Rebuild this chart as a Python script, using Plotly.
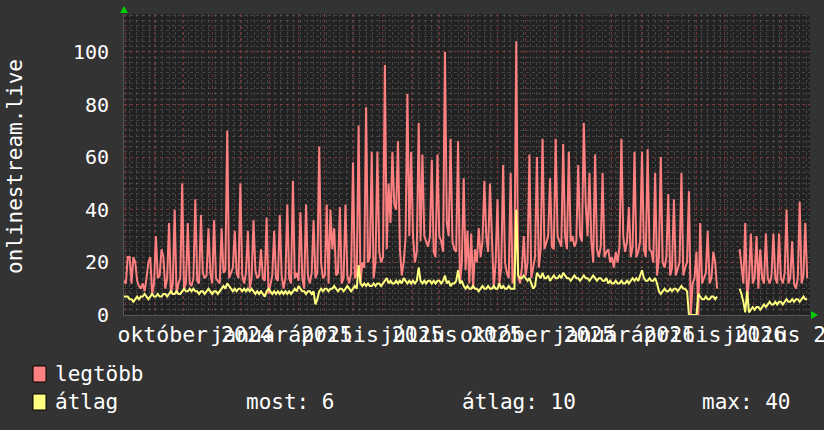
import plotly.graph_objects as go
import pandas as pd

# ---------------- data ----------------
start_date = "2024-07-30"
step_days = 2

legtobb = [
    13, 12, 22, 22, 12, 22, 20, 13, 11, 10,
    12, 9, 14, 20, 22, 8, 12, 30, 14, 15,
    25, 22, 10, 14, 35, 8, 12, 40, 8, 12,
    14, 50, 10, 12, 35, 12, 11, 14, 44, 13,
    12, 38, 16, 14, 15, 33, 16, 12, 36, 14,
    13, 12, 33, 16, 17, 70, 14, 16, 18, 32,
    16, 14, 50, 15, 12, 16, 32, 10, 14, 36,
    17, 14, 15, 25, 14, 13, 37, 8, 12, 15,
    32, 14, 13, 38, 15, 10, 14, 42, 14, 12,
    51, 14, 16, 13, 39, 14, 10, 42, 15, 12,
    16, 36, 14, 16, 64, 20, 14, 15, 42, 12,
    40, 25, 33, 15, 16, 41, 12, 14, 42, 15,
    12, 16, 58, 14, 15, 72, 12, 20, 18, 79,
    20, 22, 62, 14, 20, 62, 24, 20, 22, 95,
    25, 50, 35, 62, 42, 40, 66, 25, 15, 20,
    29, 84, 30, 62, 30, 20, 24, 73, 28, 61,
    30, 28, 26, 30, 59, 24, 22, 61, 30, 28,
    24, 100, 35, 30, 67, 28, 25, 24, 66, 12,
    20, 52, 17, 32, 12, 31, 10, 25, 20, 33,
    22, 28, 51, 30, 24, 50, 28, 10, 20, 44,
    12, 18, 57, 20, 16, 14, 54, 12, 15, 104,
    15, 12, 18, 30, 15, 20, 61, 14, 18, 22,
    60, 18, 25, 67, 25, 28, 30, 52, 26, 25,
    67, 30, 28, 26, 65, 30, 25, 62, 28, 30,
    26, 28, 57, 30, 28, 73, 42, 30, 54, 28,
    20, 61, 25, 22, 26, 54, 22, 24, 25, 20,
    22, 18, 24, 20, 26, 67, 30, 24, 28, 41,
    22, 26, 62, 22, 24, 28, 62, 25, 22, 63,
    25, 24, 20, 54, 15, 22, 60, 20, 18, 22,
    46, 15, 18, 44, 15, 18, 20, 54, 15, 18,
    20, 47, 0, 12, 14, 24, 0, 35, 12, 14,
    16, 32, 12, 14, 24, 20, 10, None, None, None,
    None, None, None, None, None, None, None, None, 25, 18,
    12, 35, 5, 14, 31, 12, 14, 30, 10, 25,
    14, 12, 31, 14, 12, 15, 31, 14, 12, 31,
    14, 12, 16, 40, 12, 14, 28, 12, 10, 14,
    43, 12, 15, 35, 14,
]

atlag = [
    7, 7, 7, 6, 6, 5, 6, 7, 6, 7,
    7, 8, 7, 6, 7, 8, 7, 7, 8, 7,
    7, 8, 8, 7, 8, 9, 8, 8, 9, 8,
    8, 9, 10, 9, 9, 10, 9, 10, 9, 9,
    8, 9, 9, 8, 9, 10, 9, 8, 9, 9,
    8, 9, 10, 11, 10, 12, 11, 10, 9, 10,
    9, 10, 10, 9, 10, 9, 10, 9, 10, 9,
    8, 9, 8, 9, 8, 7, 9, 10, 9, 8,
    9, 8, 9, 8, 9, 8, 9, 8, 9, 8,
    9, 10, 9, 11, 10, 9, 9, 8, 9, 9,
    8, 9, 4, 6, 9, 10, 9, 10, 10, 9,
    10, 10, 11, 10, 9, 10, 10, 9, 10, 11,
    10, 9, 10, 11, 10, 19, 12, 11, 12, 11,
    12, 11, 11, 12, 11, 12, 12, 11, 12, 13,
    14, 12, 13, 12, 12, 13, 12, 13, 12, 14,
    13, 12, 13, 12, 13, 12, 13, 18, 13, 12,
    13, 12, 13, 13, 12, 13, 12, 13, 13, 12,
    13, 15, 12, 13, 11, 12, 12, 13, 17, 12,
    13, 11, 10, 11, 10, 10, 11, 10, 10, 9,
    10, 11, 10, 10, 11, 10, 10, 11, 10, 10,
    12, 10, 11, 10, 10, 11, 10, 10, 10, 40,
    15, 14, 14, 15, 14, 13, 14, 12, 10, 11,
    16, 15, 14, 16, 14, 14, 15, 13, 14, 15,
    14, 14, 15, 14, 16, 15, 14, 14, 13, 14,
    15, 14, 14, 13, 14, 15, 14, 14, 13, 14,
    15, 14, 13, 14, 14, 13, 13, 14, 12, 13,
    12, 12, 13, 12, 12, 13, 12, 12, 13, 12,
    13, 14, 13, 14, 13, 15, 17, 14, 13, 13,
    14, 13, 13, 14, 12, 9, 8, 9, 10, 9,
    9, 10, 9, 10, 10, 9, 10, 11, 10, 10,
    9, 0, 0, 0, 0, 0, 8, 7, 6, 6,
    7, 6, 6, 7, 7, 6, 7, None, None, None,
    None, None, None, None, None, None, None, None, 10, 8,
    5, 1, 9, 1, 2, 3, 2, 3, 3, 2,
    3, 4, 3, 4, 5, 4, 4, 5, 4, 5,
    5, 4, 5, 6, 5, 5, 6, 5, 6, 6,
    5, 6, 7, 6, 6,
]

series_names = ["legtöbb", "átlag"]
stat_texts = ["most: 6", "átlag: 10", "max: 40"]
y_label = "onlinestream.live"

quarter_ticks = ["2024-10-01", "2025-01-01", "2025-04-01", "2025-07-01",
                 "2025-10-01", "2026-01-01", "2026-04-01", "2026-07-01"]
quarter_labels = ["október 2024", "január 2025", "április 2025", "július 2025",
                  "október 2025", "január 2026", "április 2026", "július 2026"]
y_ticks = [0, 20, 40, 60, 80, 100]

x_range = ["2024-07-30", "2026-07-31"]
y_range = [0, 114.4]

dates = pd.date_range(start_date, periods=len(legtobb), freq=f"{step_days}D")

# ---------------- style ----------------
W, H = 824, 430
L, R, T, B = 124, 14, 14, 115
PW, PH = W - L - R, H - T - B
FONT = "DejaVu Sans Mono"
RED = "#FF8080"
YEL = "#FFFF80"
BACK = "#333333"
CANVAS = "#222222"
MAJ = "rgba(150,55,55,0.7)"
MIN = "rgba(110,110,110,0.45)"


def xp(px):
    return (px - L) / PW


def yp(py):
    return (T + PH - py) / PH


fig = go.Figure()
fig.add_trace(go.Scatter(x=dates, y=legtobb, mode="lines", name=series_names[0],
                         line=dict(color=RED, width=2), connectgaps=False,
                         showlegend=False, hoverinfo="skip"))
fig.add_trace(go.Scatter(x=dates, y=atlag, mode="lines", name=series_names[1],
                         line=dict(color=YEL, width=2), connectgaps=False,
                         showlegend=False, hoverinfo="skip"))
# carrier trace for the label axis
fig.add_trace(go.Scatter(x=quarter_ticks, y=[0] * len(quarter_ticks), xaxis="x2",
                         mode="markers", marker=dict(size=1, opacity=0),
                         showlegend=False, hoverinfo="skip"))

fig.update_layout(
    width=W, height=H,
    margin=dict(l=L, r=R, t=T, b=B, autoexpand=False),
    paper_bgcolor=BACK, plot_bgcolor=CANVAS,
    font=dict(family=FONT, color="white", size=21),
    xaxis=dict(
        type="date", range=x_range, showticklabels=False, ticks="",
        automargin=False,
        showgrid=True, gridcolor=MAJ, griddash="dot", gridwidth=1,
        dtick="M1", tick0="2024-08-01", zeroline=False,
        showline=True, linecolor="#555555", linewidth=1,
        minor=dict(dtick=7 * 86400000, tick0="2024-07-29", showgrid=True,
                   gridcolor=MIN, griddash="dot", gridwidth=1),
    ),
    xaxis2=dict(
        type="date", range=x_range, overlaying="x", anchor="y", side="bottom",
        automargin=False,
        tickmode="array", tickvals=quarter_ticks, ticktext=quarter_labels,
        tickangle=0, showgrid=False, ticks="", zeroline=False, showline=False,
        ticklabelshift=12, ticklabeloverflow="allow", ticklabelstandoff=4,
        tickfont=dict(family=FONT, size=21.5, color="white"),
    ),
    yaxis=dict(
        range=y_range, tickmode="array", tickvals=y_ticks, automargin=False,
        showgrid=True, gridcolor=MAJ, griddash="dot", gridwidth=1,
        zeroline=False, ticks="", ticklabelstandoff=10,
        showline=True, linecolor="#555555", linewidth=1,
        tickfont=dict(family=FONT, size=20, color="white"),
        minor=dict(dtick=2, showgrid=True, gridcolor=MIN, griddash="dot", gridwidth=1),
    ),
)

ann = [
    dict(text=y_label, x=xp(15), y=yp(167), textangle=-90,
         xanchor="center", yanchor="middle"),
    dict(text=series_names[0], x=xp(53), y=yp(374), xanchor="left", yanchor="middle"),
    dict(text=series_names[1], x=xp(53), y=yp(402), xanchor="left", yanchor="middle"),
    dict(text=stat_texts[0], x=xp(244), y=yp(402), xanchor="left", yanchor="middle"),
    dict(text=stat_texts[1], x=xp(460), y=yp(402), xanchor="left", yanchor="middle"),
    dict(text=stat_texts[2], x=xp(700), y=yp(402), xanchor="left", yanchor="middle"),
]
for a in ann:
    a.update(xref="paper", yref="paper", showarrow=False,
             font=dict(family=FONT, size=21, color="white"))
fig.update_layout(annotations=ann)

shapes = [
    dict(type="rect", x0=xp(33), x1=xp(46), y0=yp(366), y1=yp(382),
         fillcolor=RED, line=dict(color="black", width=1)),
    dict(type="rect", x0=xp(33), x1=xp(46), y0=yp(394), y1=yp(410),
         fillcolor=YEL, line=dict(color="black", width=1)),
    dict(type="path",
         path=f"M {xp(120)} {yp(13)} L {xp(128)} {yp(13)} L {xp(124)} {yp(6)} Z",
         fillcolor="#00CC00", line=dict(width=0)),
    dict(type="path",
         path=f"M {xp(811)} {yp(311)} L {xp(811)} {yp(319)} L {xp(818)} {yp(315)} Z",
         fillcolor="#00CC00", line=dict(width=0)),
]
for s in shapes:
    s.update(xref="paper", yref="paper", layer="above")
fig.update_layout(shapes=shapes)

fig.write_html("out.html")
